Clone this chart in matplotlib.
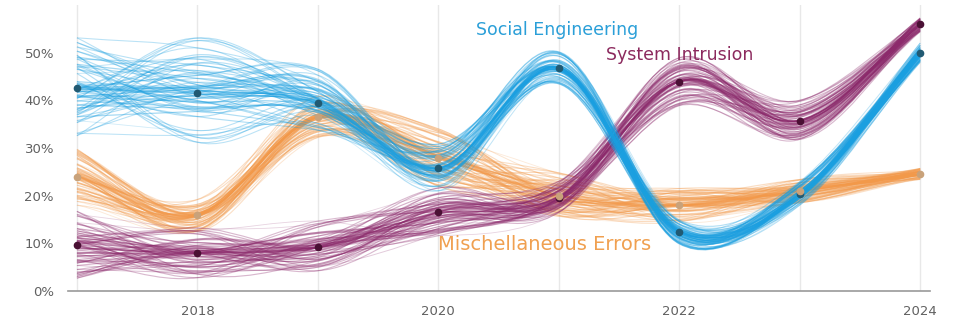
import matplotlib
matplotlib.use('Agg')
import matplotlib.pyplot as plt
from matplotlib.path import Path
from matplotlib.patches import PathPatch
import numpy as np

years = [2017, 2018, 2019, 2020, 2021, 2022, 2023, 2024]

social = [42.6, 41.6, 39.5, 25.8, 46.8, 12.4, 20.4, 50.0]
intrusion = [9.7, 8.0, 9.2, 16.6, 19.5, 43.9, 35.7, 55.9]
errors = [24.0, 16.0, 36.5, 28.0, 20.0, 18.0, 21.0, 24.5]

# half width of the spread of the sampled lines, per year
social_spread = [11, 12, 7, 5, 3.5, 2.5, 2.5, 2]
intrusion_spread = [7, 6, 6, 5, 3.5, 5, 4.5, 1.5]
errors_spread = [6, 3.5, 4.5, 6, 5, 3.5, 2.5, 1.2]

xticks = [2018, 2020, 2022, 2024]
yticks = [0, 10, 20, 30, 40, 50]

n_lines = 79


def smooth_path(xs, ys):
    xs = np.asarray(xs, float)
    ys = np.asarray(ys, float)
    n = len(xs)
    dx = np.zeros(n)
    dy = np.zeros(n)
    for j in range(n):
        a = max(j - 1, 0)
        b = min(j + 1, n - 1)
        dx[j] = (xs[b] - xs[a]) / (b - a)
        dy[j] = (ys[b] - ys[a]) / (b - a)
    verts = [(xs[0], ys[0])]
    codes = [Path.MOVETO]
    for j in range(n - 1):
        verts += [(xs[j] + dx[j] / 3, ys[j] + dy[j] / 3),
                  (xs[j + 1] - dx[j + 1] / 3, ys[j + 1] - dy[j + 1] / 3),
                  (xs[j + 1], ys[j + 1])]
        codes += [Path.CURVE4] * 3
    return Path(verts, codes)


def draw_series(ax, vals, spread, color, seed):
    vals = np.asarray(vals, float)
    spread = np.asarray(spread, float)
    for i in range(n_lines):
        offs = []
        for j in range(len(vals)):
            h = (i * 37 + j * 53 + i * j * 17 + i * i * 3 + seed) % n_lines
            u = h / (n_lines - 1) * 2 - 1
            offs.append(np.sign(u) * abs(u) ** 1.8)
        offs = np.array(offs)
        ys = vals + offs * spread
        m = np.mean(np.abs(offs))
        ax.add_patch(PathPatch(smooth_path(years, ys), fill=False,
                               edgecolor=color, lw=1.0 - 0.5 * m,
                               alpha=0.45 - 0.33 * m))


fig = plt.figure(figsize=(9.56, 3.2), dpi=100)
ax = fig.add_axes([0.071, 0.0906, 0.902, 0.894])

for y in years:
    ax.axvline(y, color='#e8e8e8', lw=1, zorder=0)

draw_series(ax, errors, errors_spread, '#f2994a', 5)
draw_series(ax, intrusion, intrusion_spread, '#8c2a6c', 11)
draw_series(ax, social, social_spread, '#1a9fe0', 23)

ax.plot(years, social, 'o', color='#215a73', ms=4.5, zorder=5)
ax.plot(years, intrusion, 'o', color='#4a1034', ms=4.5, zorder=5)
ax.plot(years, errors, 'o', color='#c9a27a', ms=4.5, zorder=5)

ax.text(2020.31, 54.8, 'Social Engineering', color='#2a9fd8', fontsize=12.5,
        va='center', ha='left')
ax.text(2021.39, 49.6, 'System Intrusion', color='#8c2a5e', fontsize=12.5,
        va='center', ha='left')
ax.text(2020.0, 9.7, 'Mischellaneous Errors', color='#f0a050', fontsize=14,
        va='center', ha='left')

ax.set_xlim(2016.925, 2024.083)
ax.set_ylim(0, 60)
ax.set_xticks(xticks)
ax.set_xticklabels([str(t) for t in xticks])
ax.set_yticks(yticks)
ax.set_yticklabels([f'{t}%' for t in yticks])
ax.tick_params(axis='y', length=0, labelsize=9.5, labelcolor='#606060', pad=10)
ax.tick_params(axis='x', length=0, labelsize=9.5, labelcolor='#606060', pad=10)
for s in ['top', 'right', 'left']:
    ax.spines[s].set_visible(False)
ax.spines['bottom'].set_color('#999999')
ax.spines['bottom'].set_linewidth(1.2)

fig.savefig('out.png', dpi=100)
